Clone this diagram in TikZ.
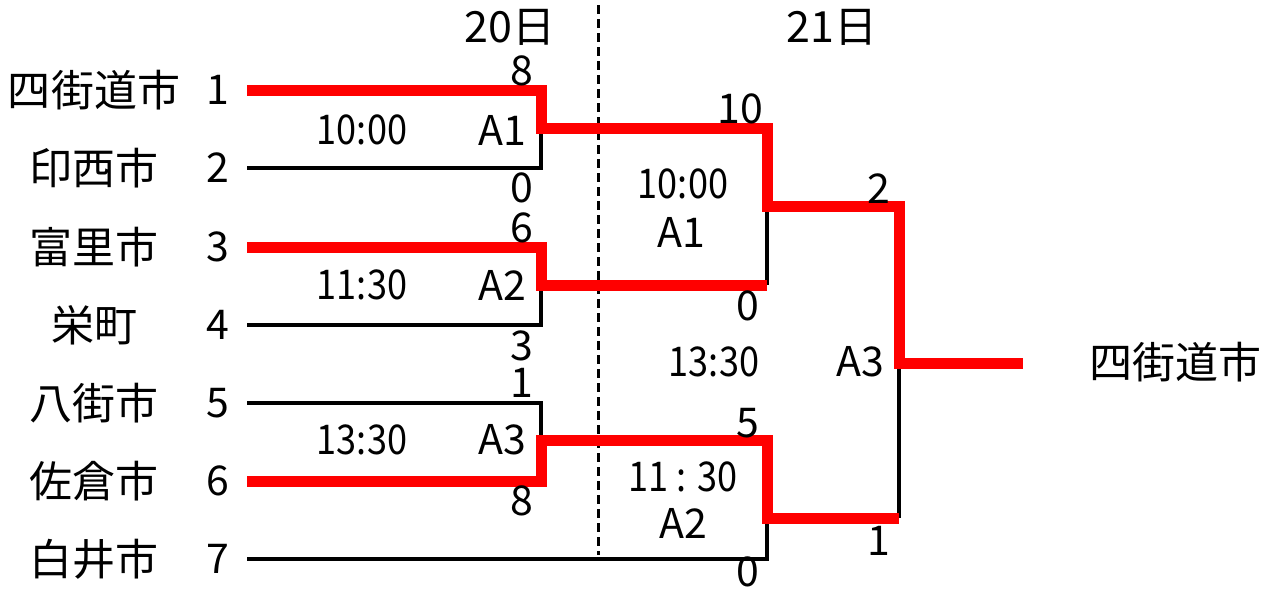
\documentclass[tikz,border=0pt]{standalone}
\usepackage{fontspec}
\setmainfont{Noto Sans CJK JP}
\newcommand{\narrowtext}[1]{\scalebox{0.88}[1]{#1}}
\begin{document}
\begin{tikzpicture}[x=1pt,y=-1pt,
  txt/.style={inner sep=0pt,font=\fontsize{41}{41}\selectfont},
  jtxt/.style={inner sep=0pt,font=\fontsize{43}{43}\selectfont},
  win/.style={draw=red,line width=11pt,line join=miter,line cap=butt},
  lose/.style={draw=black,line width=3.5pt,line join=miter},
  daysep/.style={draw=black,line width=3pt,dash pattern=on 9pt off 5pt}]
\useasboundingbox (0,0) rectangle (1268,589);
% names
\foreach \i/\n/\y in {1/四街道市/90,2/印西市/168,3/富里市/247,4/栄町/325,5/八街市/403,6/佐倉市/481,7/白井市/559}{
  \node[jtxt] (n\i) at (94,\y) {\n};
  \node[txt] (s\i) at (218,\y) {\i};
  \coordinate (l\i) at (247,\y);
}
% day headers
\node[jtxt] (d20) at (510,27) {20日};
\node[jtxt] (d21) at (832,27) {21日};
% bracket corner coordinates
\coordinate (a1) at (541,90);  \coordinate (a2) at (541,168); \coordinate (a12) at (541,128);
\coordinate (a3) at (541,247); \coordinate (a4) at (541,325); \coordinate (a34) at (541,285);
\coordinate (a5) at (541,403); \coordinate (a6) at (541,481); \coordinate (a56) at (541,440);
\coordinate (b1) at (767,128); \coordinate (b2) at (767,285); \coordinate (b12) at (767,206);
\coordinate (b3) at (767,440); \coordinate (b4) at (767,559); \coordinate (b34) at (767,518);
\coordinate (c1) at (899,206); \coordinate (c2) at (899,518); \coordinate (c12) at (899,363);
\coordinate (w) at (1023,363);
\coordinate (dt) at (598,5); \coordinate (db) at (598,555);
% day separator
\draw[daysep] (dt) -- (db);
% losers (black)
\draw[lose] (l2) -- (a2) -- (a12);
\draw[lose] (l4) -- (a4) -- (a34);
\draw[lose] (l5) -- (a5) -- (a56);
\draw[lose] (l7) -- (b4) -- (b34);
\draw[lose] (b2) -- (b12);
\draw[lose] (c12) -- (c2);
% winners (red)
\draw[win] (l1) -- (a1) -- (a12) -- (b1) -- (b12) -- (c1) -- (c12) -- (w);
\draw[win] (l3) -- (a3) -- (a34) -- (b2);
\draw[win] (l6) -- (a6) -- (a56) -- (b3) -- (b34) -- (c2);
% scores round 1
\node[txt] (p1) at (522,71) {8};
\node[txt] (p2) at (522,188) {0};
\node[txt] (p3) at (522,228) {6};
\node[txt] (p4) at (522,346) {3};
\node[txt] (p5) at (522,383) {1};
\node[txt] (p6) at (522,501) {8};
% scores round 2 and final
\node[txt] (q1) at (740,109) {10};
\node[txt] (q2) at (748,306) {0};
\node[txt] (q3) at (748,423) {5};
\node[txt] (q4) at (748,572) {0};
\node[txt] (r1) at (879,189) {2};
\node[txt] (r2) at (879,541) {1};
% match info round 1
\node[txt] (t1) at (362,130) {\narrowtext{10:00}};
\node[txt] (m1) at (502,130) {A1};
\node[txt] (t2) at (362,285) {\narrowtext{11:30}};
\node[txt] (m2) at (502,285) {A2};
\node[txt] (t3) at (362,440) {\narrowtext{13:30}};
\node[txt] (m3) at (502,440) {A3};
% match info round 2 and final
\node[txt] (u1) at (683,184) {\narrowtext{10:00}};
\node[txt] (v1) at (681,232) {A1};
\node[txt] (u2) at (683,477) {\narrowtext{11 : 30}};
\node[txt] (v2) at (683,523) {A2};
\node[txt] (u3) at (714,362) {\narrowtext{13:30}};
\node[txt] (v3) at (860,362) {A3};
% champion
\node[jtxt] (champ) at (1175,362) {四街道市};
\end{tikzpicture}
\end{document}
